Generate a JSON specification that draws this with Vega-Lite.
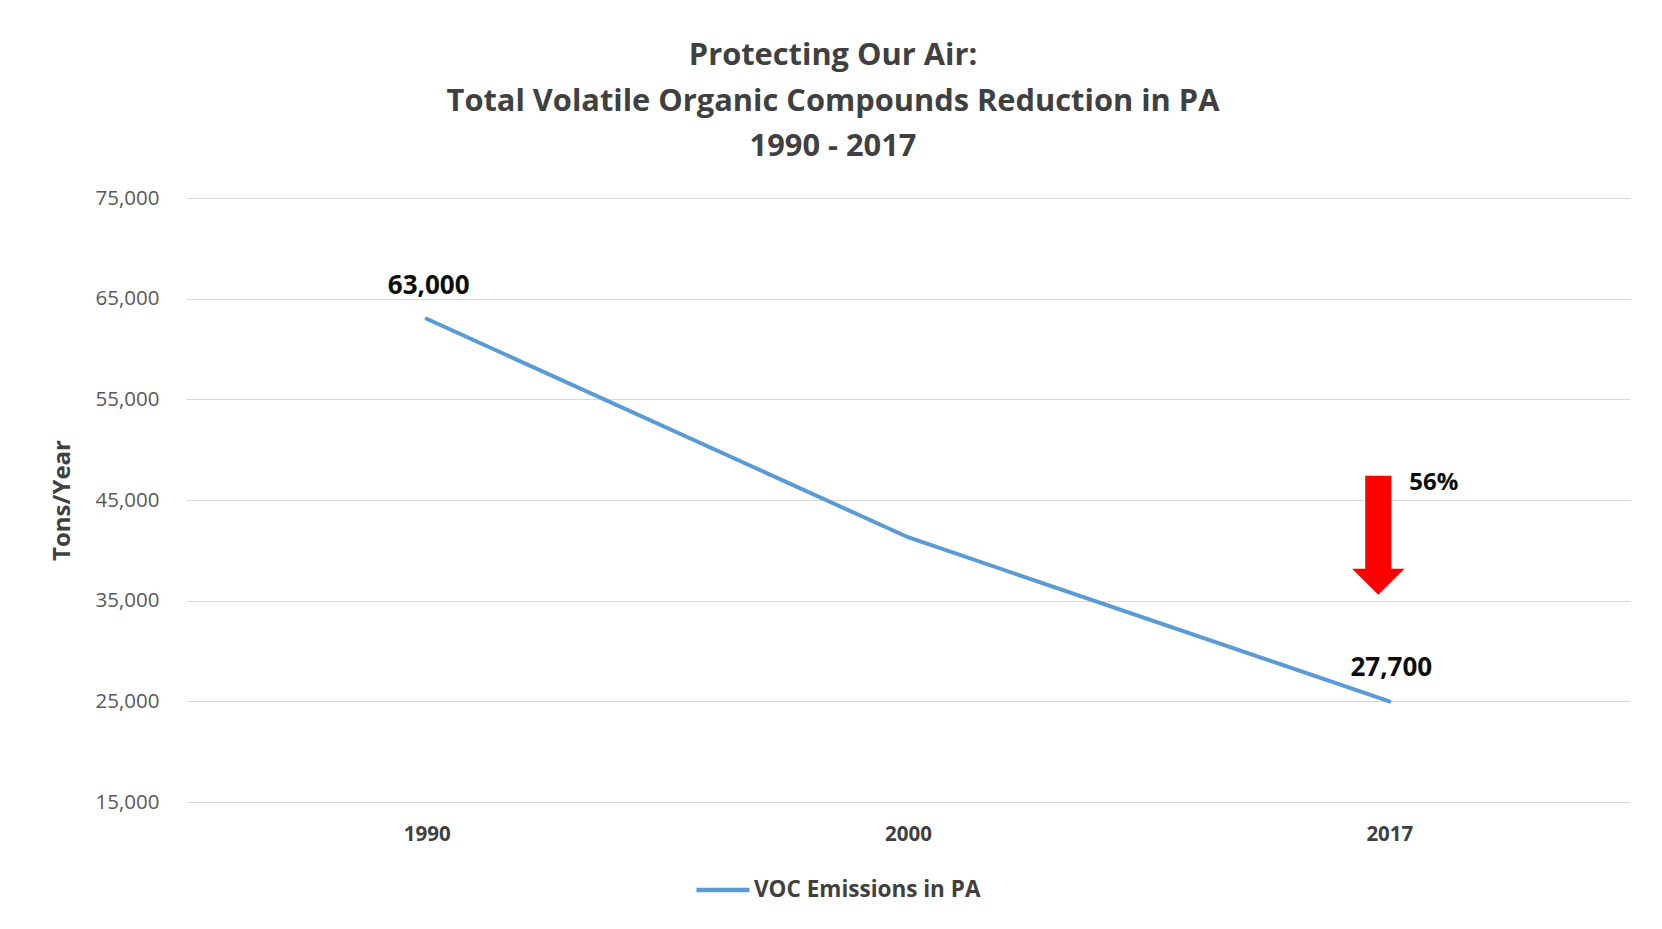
{
  "$schema": "https://vega.github.io/schema/vega-lite/v6.json",
  "width": 1444,
  "height": 604,
  "autosize": {"type": "none"},
  "padding": {"left": 186, "top": 198, "right": 32, "bottom": 127},
  "background": "#ffffff",
  "config": {"view": {"stroke": null}, "font": "Open Sans"},
  "title": {
    "text": ["Protecting Our Air:", "Total Volatile Organic Compounds Reduction in PA", "1990 - 2017"],
    "font": "Open Sans",
    "fontSize": 30.8,
    "fontWeight": "bold",
    "color": "#404040",
    "lineHeight": 45.5,
    "anchor": "middle",
    "frame": "group",
    "dx": -75,
    "offset": 25
  },
  "datasets": {
    "voc": [
      {"year": "1990", "value": 63000, "label": "63,000", "series": "VOC Emissions in PA"},
      {"year": "2000", "value": 41300, "label": null, "series": "VOC Emissions in PA"},
      {"year": "2017", "value": 25000, "label": "27,700", "series": "VOC Emissions in PA"}
    ],
    "arrow": [
      {"year": "2017", "tip": 35600, "pct": "56%", "pctValue": 46700}
    ]
  },
  "layer": [
    {
      "data": {"name": "voc"},
      "mark": {"type": "line", "strokeWidth": 4, "strokeCap": "round"},
      "encoding": {
        "x": {
          "field": "year",
          "type": "ordinal",
          "axis": {
            "title": null,
            "grid": false,
            "domain": false,
            "ticks": false,
            "labelAngle": 0,
            "labelFont": "Open Sans",
            "labelFontSize": 20.5,
            "labelFontWeight": "bold",
            "labelColor": "#404040",
            "labelPadding": 22
          }
        },
        "y": {
          "field": "value",
          "type": "quantitative",
          "scale": {"domain": [15000, 75000], "nice": false, "zero": false},
          "axis": {
            "title": "Tons/Year",
            "values": [15000, 25000, 35000, 45000, 55000, 65000, 75000],
            "format": ",.0f",
            "grid": true,
            "gridColor": "#d9d9d9",
            "gridWidth": 1,
            "domain": false,
            "ticks": false,
            "labelFlush": false,
            "labelFont": "Open Sans",
            "labelFontSize": 20.5,
            "labelColor": "#595959",
            "labelPadding": 27,
            "titleFont": "Open Sans",
            "titleFontSize": 24,
            "titleFontWeight": "bold",
            "titleColor": "#404040",
            "titlePadding": 21
          }
        },
        "color": {
          "field": "series",
          "type": "nominal",
          "scale": {"range": ["#5b9bd5"]},
          "legend": {
            "title": null,
            "orient": "none",
            "legendX": 508,
            "legendY": 663,
            "direction": "horizontal",
            "padding": 0,
            "symbolType": "stroke",
            "symbolSize": 2809,
            "symbolStrokeWidth": 4.5,
            "labelOffset": 2,
            "labelFont": "Open Sans",
            "labelFontSize": 22.5,
            "labelFontWeight": "bold",
            "labelColor": "#404040",
            "labelLimit": 400
          }
        }
      }
    },
    {
      "data": {"name": "voc"},
      "transform": [{"filter": "datum.label != null"}],
      "mark": {"type": "text", "font": "Open Sans", "fontSize": 26, "fontWeight": "bold", "color": "#0d0d0d", "dy": -33, "dx": 2, "baseline": "middle"},
      "encoding": {
        "x": {"field": "year", "type": "ordinal"},
        "y": {"field": "value", "type": "quantitative"},
        "text": {"field": "label"}
      }
    },
    {
      "data": {"name": "arrow"},
      "mark": {
        "type": "point",
        "shape": "M0,0 L-1,-0.99 L-0.5,-0.99 L-0.5,-4.54 L0.5,-4.54 L0.5,-0.99 L1,-0.99 Z",
        "size": 2746,
        "filled": true,
        "fill": "#ff0000",
        "stroke": null,
        "opacity": 1,
        "xOffset": -11
      },
      "encoding": {
        "x": {"field": "year", "type": "ordinal"},
        "y": {"field": "tip", "type": "quantitative"}
      }
    },
    {
      "data": {"name": "arrow"},
      "mark": {"type": "text", "font": "Open Sans", "fontSize": 24, "fontWeight": "bold", "color": "#0d0d0d", "align": "left", "baseline": "middle", "dx": 20},
      "encoding": {
        "x": {"field": "year", "type": "ordinal"},
        "y": {"field": "pctValue", "type": "quantitative"},
        "text": {"field": "pct"}
      }
    }
  ]
}
